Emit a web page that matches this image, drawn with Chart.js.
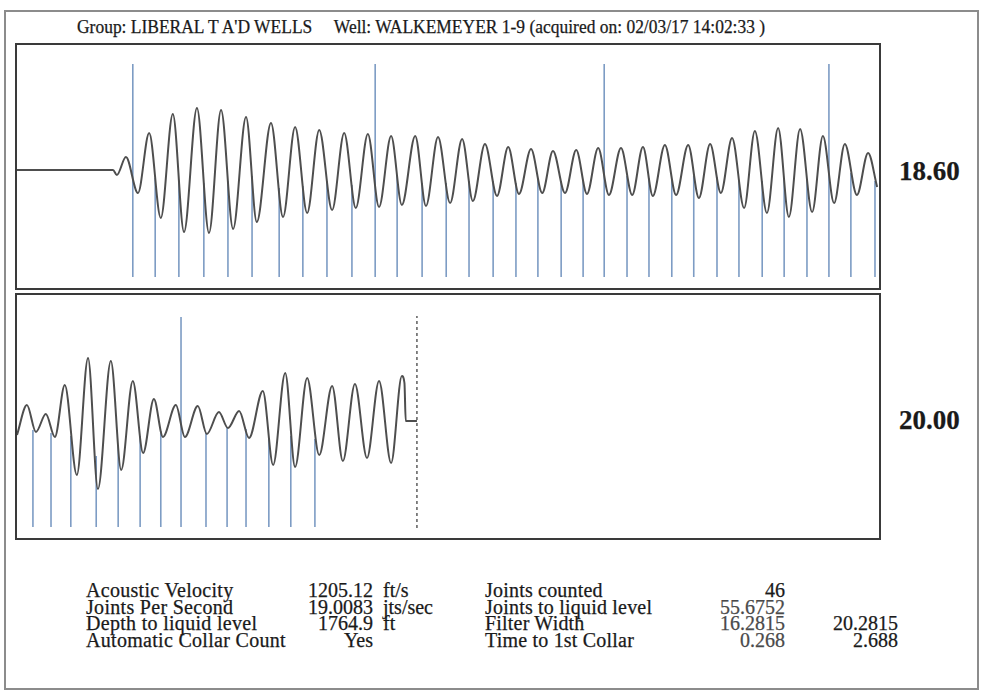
<!DOCTYPE html>
<html>
<head>
<meta charset="utf-8">
<title>Acoustic shot - WALKEMEYER 1-9</title>
<script src="https://cdn.jsdelivr.net/npm/chart.js@4.4.1/dist/chart.umd.min.js"></script>
<style>
    body { margin: 0; background: #fff; }
    #page { position: relative; width: 983px; height: 694px; overflow: hidden;
            font-family: "Liberation Serif", "Times New Roman", serif; color: #1a1a1a; }
    .frame { position: absolute; box-sizing: border-box; }
    .outer { left: 4px; top: 10px; width: 975px; height: 680px; border: 2px solid #8c8c8c; }
    .panel { left: 15px; width: 866px; height: 247px; border: 2px solid #3a3a3a; }
    canvas { position: absolute; }
    .txt { position: absolute; white-space: nowrap; line-height: 1; -webkit-text-stroke: 0.25px currentColor; }
</style>
</head>
<body>
<div id="page">
    <div class="frame outer"></div>
    <div class="frame panel" style="top:43px"></div>
    <div class="frame panel" style="top:293px"></div>
    <canvas id="topShot" width="861" height="243" style="left:17px;top:45px"></canvas>
    <canvas id="bottomShot" width="861" height="243" style="left:17px;top:295px"></canvas>
</div>
<script>
const topTime = [0, 0.223, 0.232, 0.253, 0.281, 0.307, 0.334, 0.362, 0.388, 0.418, 0.446, 0.474, 0.502,
    0.532, 0.557, 0.590, 0.618, 0.646, 0.674, 0.702, 0.732, 0.760, 0.787, 0.815, 0.841, 0.869, 0.894,
    0.925, 0.950, 0.978, 1.006, 1.034, 1.059, 1.087, 1.115, 1.141, 1.166, 1.194, 1.220, 1.245, 1.273,
    1.299, 1.324, 1.350, 1.375, 1.403, 1.429, 1.454, 1.477, 1.505, 1.531, 1.559, 1.584, 1.610, 1.635,
    1.661, 1.689, 1.714, 1.742, 1.768, 1.793, 1.819, 1.847, 1.872, 1.898, 1.923, 1.951, 1.977, 1.998];
const topAmp = [0, 0, -5, 13, -23, 37, -48, 56, -62, 62, -63, 60, -59,
    53, -52, 47, -47, 43, -43, 40, -40, 37, -38, 36, -37, 34, -35,
    34, -36, 33, -33, 31, -31, 26, -26, 23, -24, 21, -23, 19, -23,
    20, -24, 22, -25, 22, -25, 23, -26, 25, -25, 25, -28, 26, -23,
    32, -38, 39, -43, 42, -47, 41, -42, 34, -33, 26, -25, 17, -17];

// Collar marks (every 10th joint is the tall one)
const topCollarTime = [0.269, 0.321, 0.376, 0.434, 0.490, 0.546, 0.609, 0.664, 0.720, 0.778, 0.832,
    0.883, 0.941, 0.997, 1.050, 1.106, 1.159, 1.210, 1.264, 1.315, 1.364,
    1.417, 1.468, 1.521, 1.572, 1.626, 1.677, 1.731, 1.782, 1.835, 1.886, 1.937, 1.993];
const topCollarTop = [106, -8, -10, -13, -11, -6, -18, -16, -11, -15, 106,
    -6, -13, -13, -11, -11, -13, -9, -11, -10, 106,
    -6, -8, -9, -6, -7, -11, -11, -9, -9, 106, -3, -11];

// Bottom panel trace
const bottomTime = [2.000, 2.023, 2.044, 2.067, 2.088, 2.111, 2.139, 2.165, 2.188, 2.218, 2.242, 2.269,
    2.293, 2.318, 2.339, 2.369, 2.390, 2.420, 2.441, 2.469, 2.490, 2.516, 2.539, 2.571,
    2.595, 2.623, 2.646, 2.674, 2.702, 2.732, 2.757, 2.785, 2.813, 2.841, 2.869, 2.894,
    2.900, 2.903, 2.929];
const bottomAmp = [-14, 16, -11, 7, -16, 36, -54, 63, -68, 60, -49, 40,
    -32, 22, -16, 16, -16, 15, -13, 9, -7, 10, -17, 30,
    -44, 48, -46, 43, -34, 35, -40, 37, -37, 40, -42, 45,
    38, 0, 0];
const bottomCollarTime = [2.037, 2.079, 2.125, 2.184, 2.235, 2.286, 2.334, 2.381, 2.439, 2.488, 2.532, 2.585, 2.636, 2.692];
const bottomCollarTop = [-9, -12, -15, -35, -25, -15, -10, 104, -12, -6, -8, -18, -15, -18];
const liquidLevelTime = 2.929;

const panelScales = ['18.60', '20.00'];

// Summary table
const leftLabels = ['Acoustic Velocity', 'Joints Per Second', 'Depth to liquid level', 'Automatic Collar Count'];
const leftValues = ['1205.12', '19.0083', '1764.9', 'Yes'];
const leftUnits = ['ft/s', 'jts/sec', 'ft', ''];
const rightLabels = ['Joints counted', 'Joints to liquid level', 'Filter Width', 'Time to 1st Collar'];
const rightValues = ['46', '55.6752', '16.2815', '0.268'];
const extraValues = ['', '', '20.2815', '2.688'];

const titleText = "Group: LIBERAL T A'D WELLS\u00a0\u00a0\u00a0\u00a0 Well: WALKEMEYER 1-9 (acquired on: 02/03/17 14:02:33 )";

const TRACE_COLOR = '#4e4e4e';
const COLLAR_COLOR = '#7d9cc4';

function toPoints(xs, ys) {
    return xs.map((x, i) => ({ x: x, y: ys[i] }));
}

// vertical segments, broken with a null point between each
function collarSegments(times, tops, base) {
    const pts = [];
    times.forEach((t, i) => {
        pts.push({ x: t, y: base }, { x: t, y: tops[i] }, { x: t, y: null });
    });
    return pts;
}

function makePanel(id, xMin, xMax, yMin, yMax, datasets) {
    const ctx = document.getElementById(id).getContext('2d');
    return new Chart(ctx, {
        type: 'line',
        data: { datasets: datasets },
        options: {
            responsive: false,
            animation: false,
            layout: { padding: 0 },
            elements: { point: { radius: 0 } },
            plugins: {
                legend: { display: false },
                tooltip: { enabled: false }
            },
            scales: {
                x: { type: 'linear', min: xMin, max: xMax, display: false },
                y: { min: yMin, max: yMax, display: false }
            }
        }
    });
}

makePanel('topShot', 0, 2, -118, 125, [
    {
        data: toPoints(topTime, topAmp),
        borderColor: TRACE_COLOR,
        borderWidth: 2,
        cubicInterpolationMode: 'monotone'
    },
    {
        data: collarSegments(topCollarTime, topCollarTop, -107),
        borderColor: COLLAR_COLOR,
        borderWidth: 1.6
    }
]);

makePanel('bottomShot', 2, 4, -117, 126, [
    {
        data: toPoints(bottomTime, bottomAmp),
        borderColor: TRACE_COLOR,
        borderWidth: 2,
        cubicInterpolationMode: 'monotone'
    },
    {
        data: collarSegments(bottomCollarTime, bottomCollarTop, -106),
        borderColor: COLLAR_COLOR,
        borderWidth: 1.6
    },
    {
        data: [{ x: liquidLevelTime, y: -107 }, { x: liquidLevelTime, y: 105 }],
        borderColor: '#444',
        borderWidth: 1.3,
        borderDash: [3, 3]
    }
]);

// Text: x is the anchor, y the baseline
const page = document.getElementById('page');
function place(text, x, baseline, size, opts) {
    opts = opts || {};
    const el = document.createElement('div');
    el.className = 'txt';
    el.textContent = text;
    el.style.fontSize = size + 'px';
    el.style.top = (baseline - 0.8375 * size) + 'px';
    if (opts.bold) el.style.fontWeight = 'bold';
    if (opts.color) el.style.color = opts.color;
    if (opts.spacing) el.style.letterSpacing = opts.spacing + 'px';
    if (opts.align === 'right') {
        el.style.right = (983 - x) + 'px';
    } else {
        el.style.left = x + 'px';
    }
    page.appendChild(el);
    return el;
}

const title = place(titleText, 77, 33, 18);
title.style.transformOrigin = 'left center';
title.style.transform = 'scaleX(0.97)';

place(panelScales[0], 899, 181, 27, { bold: true });
place(panelScales[1], 899, 430, 27, { bold: true });

const rowBase = [597, 614, 630, 647];
rowBase.forEach((y, i) => {
    place(leftLabels[i], 86, y, 20, { spacing: 0.3 });
    place(leftValues[i], 373, y, 20, { align: 'right' });
    place(leftUnits[i], 383, y, 20);
    place(rightLabels[i], 485, y, 20, { spacing: 0.2 });
    place(rightValues[i], 785, y, 20, { align: 'right', color: i === 0 ? '#1a1a1a' : '#4a4a4a' });
    place(extraValues[i], 898, y, 20, { align: 'right' });
});
</script>
</body>
</html>
